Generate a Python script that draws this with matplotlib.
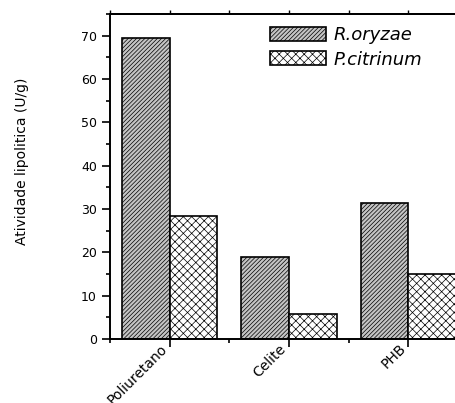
import numpy as np
import matplotlib

matplotlib.use("Agg")

import matplotlib.pyplot as plt
from matplotlib.ticker import MultipleLocator

# data
suportes = ["Poliuretano", "Celite", "PHB"]
r_oryzae = [69.4, 19.0, 31.5]
p_citrinum = [28.3, 5.7, 15.1]
series_names = ["R.oryzae", "P.citrinum"]

plt.rcParams["font.family"] = "DejaVu Sans"
plt.rcParams["hatch.linewidth"] = 0.5

fig = plt.figure(figsize=(4.55, 4.03), dpi=100)
ax = fig.add_axes([110 / 455, 64 / 403, 358 / 455, 325 / 403])

x = np.arange(len(suportes))
w = 0.4

ax.bar(x - w / 2, r_oryzae, width=w, color="#c4c4c4", edgecolor="black",
       linewidth=1.2, hatch="////////", label=series_names[0])
ax.bar(x + w / 2, p_citrinum, width=w, color="white", edgecolor="black",
       linewidth=1.2, hatch="xxxx", label=series_names[1])

ax.set_xlim(-0.5, 2.5)
ax.set_ylim(0, 75)

ax.set_xticks(x)
ax.set_xticklabels(suportes, rotation=45, ha="right", va="bottom",
                   rotation_mode="anchor", fontsize=10)

ax.xaxis.set_minor_locator(MultipleLocator(0.5))
ax.yaxis.set_major_locator(MultipleLocator(10))
ax.yaxis.set_minor_locator(MultipleLocator(5))

ax.tick_params(axis="both", which="major", direction="out", length=6,
               width=1.2)
ax.tick_params(axis="y", which="major", labelsize=9)
ax.tick_params(axis="x", which="major", pad=3)
ax.tick_params(axis="both", which="minor", direction="out", length=3,
               width=1.2)

for sp in ax.spines.values():
    sp.set_linewidth(1.4)

# small ticks on top spine
top = ax.secondary_xaxis("top")
top.set_xticks(x)
top.set_xticklabels([])
top.xaxis.set_minor_locator(MultipleLocator(0.5))
top.tick_params(which="both", direction="out", length=3, width=1.0)
top.spines["top"].set_linewidth(1.4)

fig.text(22 / 455, 1 - 161 / 403, "Atividade lipolitica (U/g)", rotation=90,
         ha="center", va="center", fontsize=10)

leg = ax.legend(loc="upper left", bbox_to_anchor=((271 - 110) / 358 - 0.047, 1.012),
                frameon=False, handlelength=3.1, handleheight=0.8,
                handletextpad=0.4, labelspacing=0.35,
                prop={"family": "DejaVu Sans", "style": "italic", "size": 13})

plt.savefig("out.png", dpi=100)
